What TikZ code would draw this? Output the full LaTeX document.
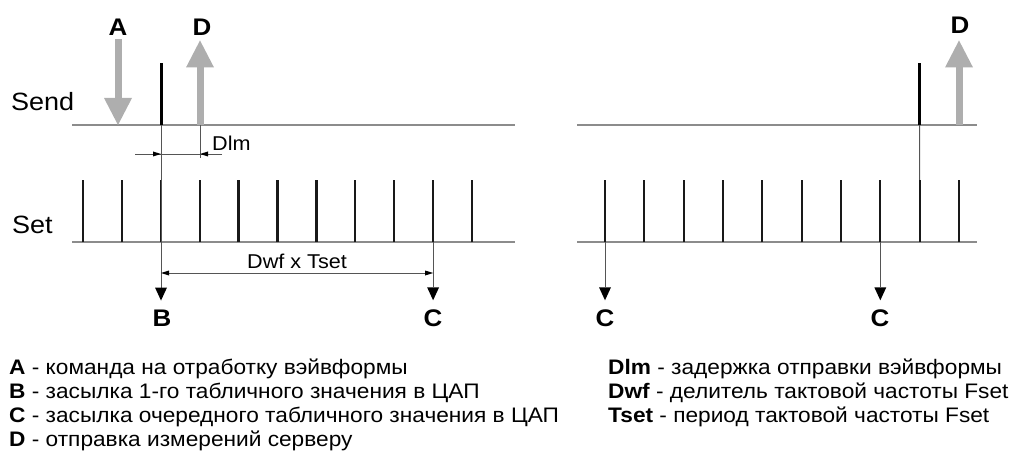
\documentclass[tikz,border=0pt]{standalone}
\usepackage{fontspec}
\setmainfont{Liberation Sans}[FakeStretch=1.08]
\usetikzlibrary{arrows.meta,positioning,calc}
\definecolor{osgray}{HTML}{8C8C8C}
\definecolor{strgray}{HTML}{AEAEAE}
\definecolor{vyngray}{HTML}{555555}
\tikzset{
  os/.style={draw=osgray,line width=1.3pt},
  takt/.style={draw=black!90,line width=2.3pt},
  impuls/.style={draw=black,line width=3pt},
  vyn/.style={draw=vyngray,line width=0.9pt},
  sobyt/.style={draw=strgray,line width=7pt,-{Triangle[length=27pt,width=28pt,line width=0pt]}},
  zasyl/.style={vyn,-{Triangle[length=13pt,width=12pt,line width=0pt,color=black]}},
  razm/.style={vyn,-{Triangle[length=8pt,width=5pt,line width=0pt,color=black]}},
  metka/.style={inner sep=0pt,font=\fontsize{25}{30}\selectfont},
  bukva/.style={inner sep=0pt,font=\fontsize{24}{28}\selectfont\bfseries},
  podpis/.style={inner sep=0pt,font=\fontsize{20}{24}\selectfont},
  legenda/.style={inner sep=0pt,anchor=base west,font=\fontsize{21}{24}\selectfont},
}
\begin{document}
\begin{tikzpicture}[x=1pt,y=-1pt]
  \useasboundingbox (0,0) rectangle (1016,454);
  % osi
  \node[metka,anchor=west] (send) at (11,102) {Send};
  \node[metka,anchor=west] (set) at (12,225) {Set};
  \draw[os] (72,125) -- (515,125);
  \draw[os] (72,242) -- (515,242);
  \draw[os] (577,125) -- (977,125);
  \draw[os] (577,242) -- (977,242);
  % takty Set
  \foreach \i in {0,...,10} {
    \coordinate (tL\i) at ({83+38.9*\i},242);
    \draw[takt] (tL\i) -- ++(0,-62);
  }
  \foreach \i in {0,...,9} {
    \coordinate (tR\i) at ({605+39.33*\i},242);
    \draw[takt] (tR\i) -- ++(0,-62);
  }
  % impulsy Send
  \coordinate (pulseL) at (161,125);
  \coordinate (pulseR) at (919.6,125);
  \draw[impuls] (pulseL) -- ++(0,-62);
  \draw[impuls] (pulseR) -- ++(0,-62);
  \draw[vyn] (pulseR) -- ($(tR8)+(0,-62)$);
  % sobytija A, D
  \node[bukva] (A) at (118,27) {A};
  \node[bukva] (D1) at (202,27) {D};
  \node[bukva] (D2) at (960,25) {D};
  \coordinate (aL) at (118,125);
  \coordinate (dL) at (200,125);
  \coordinate (dR) at (959,125);
  \draw[sobyt,shorten <=4pt] (aL |- A.south) -- (aL);
  \draw[sobyt,shorten >=5pt] (dL) -- (dL |- D1.south);
  \draw[sobyt,shorten >=7pt] (dR) -- (dR |- D2.south);
  % zasylki B, C
  \node[bukva] (B) at (162,318) {B};
  \node[bukva] (C1) at (433,318) {C};
  \node[bukva] (C2) at (605,318) {C};
  \node[bukva] (C3) at (880,318) {C};
  \draw[zasyl,shorten >=9pt] (pulseL) -- (pulseL |- B.north);
  \draw[zasyl,shorten >=9pt] (tL9) -- (tL9 |- C1.north);
  \draw[zasyl,shorten >=9pt] (tR0) -- (tR0 |- C2.north);
  \draw[zasyl,shorten >=9pt] (tR7) -- (tR7 |- C3.north);
  % razmer Dlm
  \draw[vyn] (dL) -- ++(0,33);
  \draw[vyn] (135,154) -- (222,154);
  \draw[razm] (135,154) -- (pulseL |- 0,154);
  \draw[razm] (222,154) -- (dL |- 0,154);
  \node[podpis,anchor=west] (dlm) at (212,143) {Dlm};
  % razmer Dwf x Tset
  \draw[vyn,{Triangle[length=8pt,width=5pt,line width=0pt,color=black]}-{Triangle[length=8pt,width=5pt,line width=0pt,color=black]}]
    (pulseL |- 0,273) -- node[podpis,above=4pt] (dwf) {Dwf x Tset} (tL9 |- 0,273);
  % legenda
  \node[legenda] (legA) at (9,374) {\textbf{A} - команда на отработку вэйвформы};
  \node[legenda] (legB) at (9,398) {\textbf{B} - засылка 1-го табличного значения в ЦАП};
  \node[legenda] (legC) at (9,422) {\textbf{C} - засылка очередного табличного значения в ЦАП};
  \node[legenda] (legD) at (9,446) {\textbf{D} - отправка измерений серверу};
  \node[legenda] (legDlm) at (608,374) {\textbf{Dlm} - задержка отправки вэйвформы};
  \node[legenda] (legDwf) at (608,398) {\textbf{Dwf} - делитель тактовой частоты Fset};
  \node[legenda] (legTset) at (608,422) {\textbf{Tset} - период тактовой частоты Fset};
\end{tikzpicture}
\end{document}
